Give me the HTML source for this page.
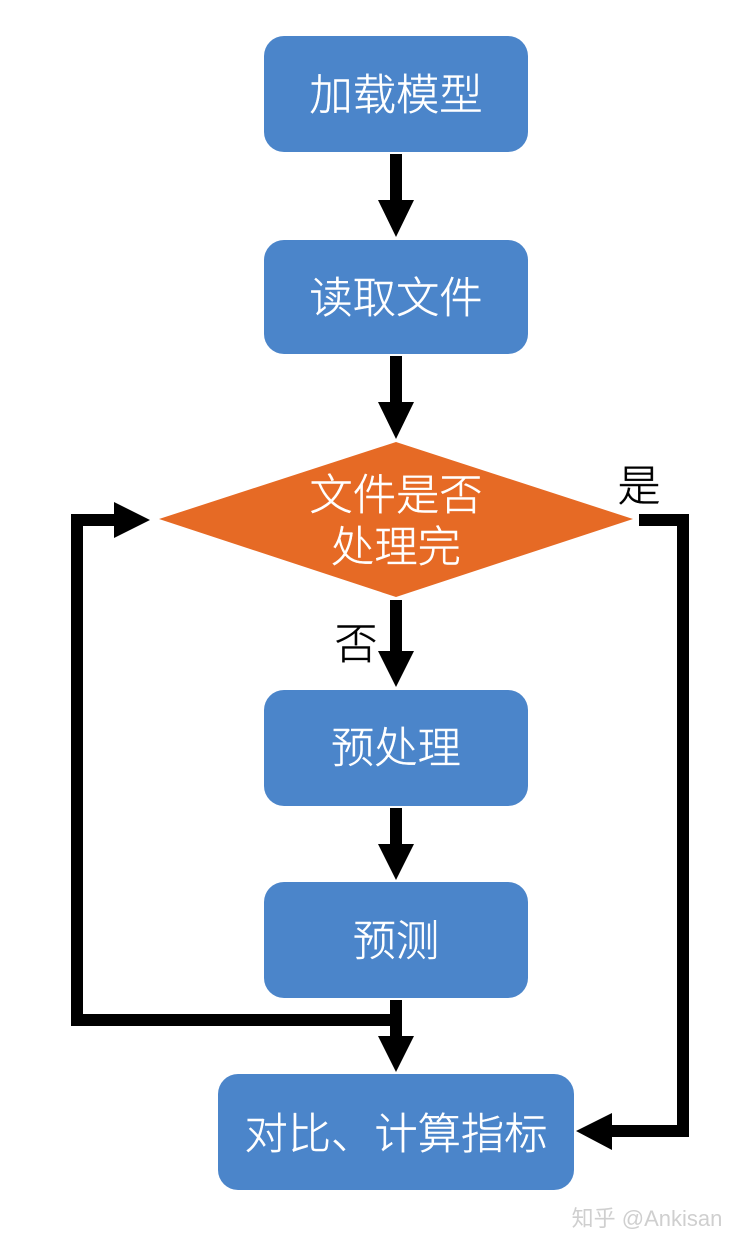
<!DOCTYPE html>
<html><head><meta charset="utf-8">
<style>
html,body{margin:0;padding:0;background:#fff;width:742px;height:1248px;overflow:hidden}
svg{display:block}
text{font-family:"Liberation Sans","Noto Sans CJK SC",sans-serif;font-weight:300;text-anchor:middle}
.w{fill:#fff;stroke:#fff;stroke-width:.4px;font-size:43.3px}
.k{fill:#000;stroke:#000;stroke-width:.4px;font-size:43px}
</style></head><body>
<svg width="742" height="1248" viewBox="0 0 742 1248" xmlns="http://www.w3.org/2000/svg">
<rect width="742" height="1248" fill="#fff"/>
<g fill="#4b85ca">
<rect x="264" y="36" width="264" height="116" rx="20"/>
<rect x="264" y="240" width="264" height="114" rx="20"/>
<rect x="264" y="690" width="264" height="116" rx="20"/>
<rect x="264" y="882" width="264" height="116" rx="20"/>
<rect x="218" y="1074" width="356" height="116" rx="20"/>
</g>
<polygon points="159,519 396,442 633,519 396,597" fill="#e66a25"/>
<g fill="#000">
<polygon points="390,154 402,154 402,200 414,200 396,237 378,200 390,200"/>
<polygon points="390,356 402,356 402,402 414,402 396,439 378,402 390,402"/>
<polygon points="390,600 402,600 402,651 414,651 396,687 378,651 390,651"/>
<polygon points="390,808 402,808 402,844 414,844 396,880 378,844 390,844"/>
<polygon points="390,1000 402,1000 402,1036 414,1036 396,1072 378,1036 390,1036"/>
<polygon points="390,1014 83,1014 83,526 114,526 114,538 150,520 114,502 114,514 71,514 71,1026 390,1026"/>
<polygon points="639,514 689,514 689,1137 612,1137 612,1150 576,1131 612,1113 612,1125 677,1125 677,526 639,526"/>
</g>
<text class="w" x="396" y="110">加载模型</text>
<text class="w" x="396" y="313">读取文件</text>
<text class="w" x="396" y="510">文件是否</text>
<text class="w" x="396" y="562">处理完</text>
<text class="w" x="396" y="763">预处理</text>
<text class="w" x="396" y="956">预测</text>
<text class="w" x="396" y="1149">对比、计算指标</text>
<text class="k" x="639" y="501">是</text>
<text class="k" x="356" y="659">否</text>
<text x="647" y="1226" style="font-size:22px;fill:#cfcfcf;font-weight:400">知乎 @Ankisan</text>
</svg>
</body></html>
